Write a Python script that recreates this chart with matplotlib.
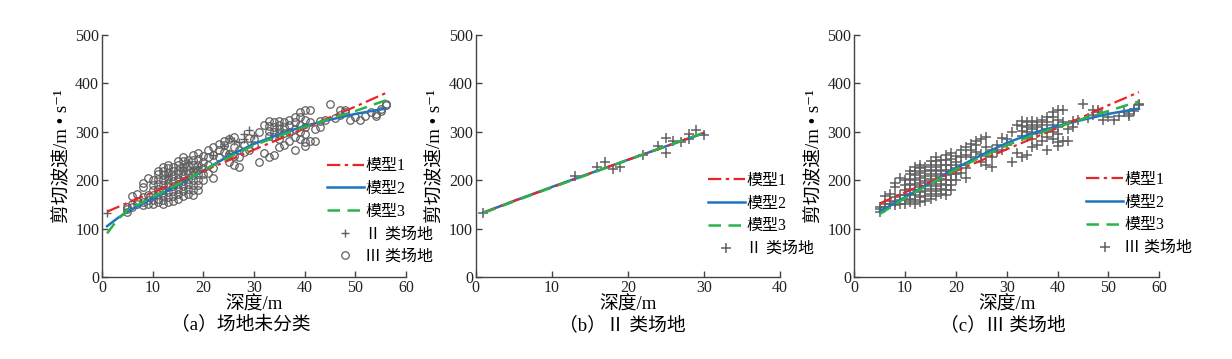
import matplotlib
matplotlib.use('Agg')
from matplotlib import pyplot as plt

plt.rcParams['font.family'] = ['Liberation Serif', 'Noto Sans CJK SC', 'DejaVu Sans']

# class II sites
site2_depth = [1, 13, 16, 17, 18, 19, 22, 24, 25, 25, 26, 27, 28, 28, 29, 30]
site2_vs = [133, 208, 228, 238, 223, 228, 252, 270, 288, 257, 281, 279, 295, 286, 303, 294]

# class III sites
site3_depth = [5, 5, 5,
               6, 6, 6,
               7, 7, 7,
               8, 8, 8, 8, 8,
               9, 9, 9, 9,
               10, 10, 10, 10, 10, 10,
               11, 11, 11, 11, 11, 11, 11, 11,
               12, 12, 12, 12, 12, 12, 12, 12, 12,
               13, 13, 13, 13, 13, 13, 13, 13, 13,
               14, 14, 14, 14, 14, 14, 14, 14,
               15, 15, 15, 15, 15, 15, 15, 15, 15,
               16, 16, 16, 16, 16, 16, 16, 16, 16,
               17, 17, 17, 17, 17, 17, 17, 17,
               18, 18, 18, 18, 18, 18, 18, 18, 18,
               19, 19, 19, 19, 19, 19, 19, 19,
               20, 20, 20, 20, 20,
               21, 21, 21, 21,
               22, 22, 22, 22,
               23, 23, 23,
               24, 24, 24,
               25, 25, 25,
               26, 26, 26, 26,
               27, 27, 27,
               28, 28,
               29, 29,
               30, 30,
               31, 31,
               32, 32,
               33, 33, 33, 33, 33,
               34, 34, 34, 34, 34,
               35, 35, 35, 35, 35, 35,
               36, 36, 36, 36,
               37, 37, 37, 37,
               38, 38, 38, 38, 38,
               39, 39, 39, 39, 39,
               40, 40, 40, 40, 40, 40,
               41, 41, 41,
               42, 42,
               43, 43,
               44, 45, 46,
               47, 47,
               48, 48,
               49, 50, 51, 52, 53,
               54, 54,
               55, 55,
               56, 56]
site3_vs = [135, 140, 145,
            145, 150, 168,
            150, 158, 172,
            148, 155, 165, 185, 195,
            150, 160, 170, 205,
            150, 160, 170, 180, 190, 200,
            155, 162, 172, 182, 192, 202, 212, 220,
            150, 160, 170, 180, 190, 200, 210, 220, 228,
            155, 165, 175, 185, 195, 205, 215, 225, 232,
            158, 168, 178, 188, 198, 208, 218, 228,
            162, 172, 182, 192, 202, 212, 222, 232, 240,
            168, 178, 188, 198, 208, 218, 228, 240, 248,
            172, 182, 192, 202, 212, 222, 232, 242,
            170, 180, 190, 200, 210, 220, 232, 242, 252,
            180, 190, 200, 212, 222, 232, 244, 256,
            200, 212, 225, 238, 250,
            215, 232, 248, 262,
            205, 225, 252, 268,
            248, 262, 275,
            258, 272, 280,
            238, 255, 285,
            232, 250, 268, 290,
            228, 248, 262,
            258, 272,
            262, 288,
            272, 286,
            237, 300,
            257, 315,
            248, 292, 302, 312, 322,
            252, 290, 300, 310, 320,
            268, 285, 295, 305, 315, 322,
            272, 298, 310, 320,
            282, 300, 315, 325,
            262, 290, 305, 320, 330,
            286, 300, 315, 330, 340,
            270, 278, 295, 310, 325, 345,
            282, 320, 345,
            282, 305,
            310, 322,
            325, 357, 328,
            335, 345,
            340, 345,
            325, 330, 325, 332, 340,
            332, 336,
            342, 347,
            355, 358]

# fitted model curves
# (a) all sites
fit_a_depth = [1, 3, 5, 10, 15, 20, 25, 30, 35, 40, 45, 50, 56]
fit_a_m1 = [135, 144, 153, 175, 197, 219, 241, 263, 285, 307, 330, 352, 380]
fit_a_m2 = [105, 121, 135, 162, 190, 220, 250, 275, 295, 312, 325, 337, 348]
fit_a_m3 = [90, 118, 138, 165, 192, 220, 247, 272, 292, 310, 327, 343, 365]
# (b) class II
fit_b_depth = [1, 5, 10, 15, 20, 25, 30]
fit_b_m1 = [133, 157, 185, 214, 242, 270, 298]
fit_b_m2 = [133, 157, 186, 214, 242, 270, 297]
fit_b_m3 = [132, 156, 185, 213, 242, 270, 298]
# (c) class III
fit_c_depth = [5, 10, 15, 20, 25, 30, 35, 40, 45, 50, 56]
fit_c_m1 = [152, 175, 197, 219, 241, 264, 286, 308, 331, 355, 382]
fit_c_m2 = [135, 165, 195, 225, 252, 277, 297, 312, 325, 337, 348]
fit_c_m3 = [130, 163, 193, 222, 248, 272, 292, 310, 327, 343, 363]

red = '#e8262a'
blue = '#1f74c2'
green = '#2bb24a'
gray = '#606060'

fig = plt.figure(figsize=(12.32, 3.59), dpi=100)
W, H = 1232, 359


def make_ax(left, right):
    ax = fig.add_axes([left / W, (H - 277) / H, (right - left) / W, 242 / H])
    for s in ['top', 'right']:
        ax.spines[s].set_visible(False)
    for s in ['left', 'bottom']:
        ax.spines[s].set_color('#444444')
        ax.spines[s].set_linewidth(1.0)
    ax.tick_params(direction='in', length=4, width=1, colors='#444444',
                   labelcolor='#222222', labelsize=11.5, pad=2)
    ax.set_ylim(0, 500)
    ax.set_yticks([0, 100, 200, 300, 400, 500])
    ax.set_xlabel('深度/m', fontsize=13.5, labelpad=0)
    ax.set_ylabel('剪切波速/m • s⁻¹', fontsize=13.5, labelpad=3)
    return ax


def models(ax, d, m1, m2, m3):
    ax.plot(d, m1, color=red, lw=1.6, linestyle=(0, (6, 2, 1.5, 2)), label='模型1', zorder=5)
    ax.plot(d, m2, color=blue, lw=1.8, label='模型2', zorder=4)
    ax.plot(d, m3, color=green, lw=1.8, linestyle=(0, (5, 3)), label='模型3', zorder=6)


leg_kw = dict(frameon=False, fontsize=11.5, handlelength=2.3, labelspacing=0.42,
              borderpad=0, handletextpad=0.1, loc='center left')

# (a)
ax = make_ax(102, 406)
models(ax, fit_a_depth, fit_a_m1, fit_a_m2, fit_a_m3)
ax.plot(site2_depth, site2_vs, '+', color=gray, ms=6, mew=1.0, label='Ⅱ 类场地', zorder=2)
ax.plot(site3_depth, site3_vs, 'o', mfc='none', mec=gray, ms=5.4, mew=0.9, label='Ⅲ 类场地', zorder=3)
ax.set_xlim(0, 60)
ax.set_xticks(range(0, 61, 10))
ax.legend(bbox_to_anchor=(0.714, 0.27), **leg_kw)
fig.text(241 / W, (H - 325) / H, '（a）场地未分类', ha='center', va='center', fontsize=13.5)

# (b)
ax = make_ax(475.7, 780)
models(ax, fit_b_depth, fit_b_m1, fit_b_m2, fit_b_m3)
ax.plot(site2_depth, site2_vs, '+', color=gray, ms=6.5, mew=1.1, label='Ⅱ 类场地', zorder=2)
ax.set_xlim(0, 40)
ax.set_xticks(range(0, 41, 10))
ax.legend(bbox_to_anchor=(0.737, 0.256), **leg_kw)
fig.text(622 / W, (H - 325) / H, '（b）Ⅱ 类场地', ha='center', va='center', fontsize=13.5)

# (c)
ax = make_ax(854.3, 1159.3)
models(ax, fit_c_depth, fit_c_m1, fit_c_m2, fit_c_m3)
ax.plot(site3_depth, site3_vs, '+', color=gray, ms=6.5, mew=1.1, label='Ⅲ 类场地', zorder=2)
ax.set_xlim(0, 60)
ax.set_xticks(range(0, 61, 10))
ax.legend(bbox_to_anchor=(0.734, 0.26), **leg_kw)
fig.text(1003 / W, (H - 325) / H, '（c）Ⅲ 类场地', ha='center', va='center', fontsize=13.5)

fig.savefig('out.png', dpi=100, facecolor='white')
